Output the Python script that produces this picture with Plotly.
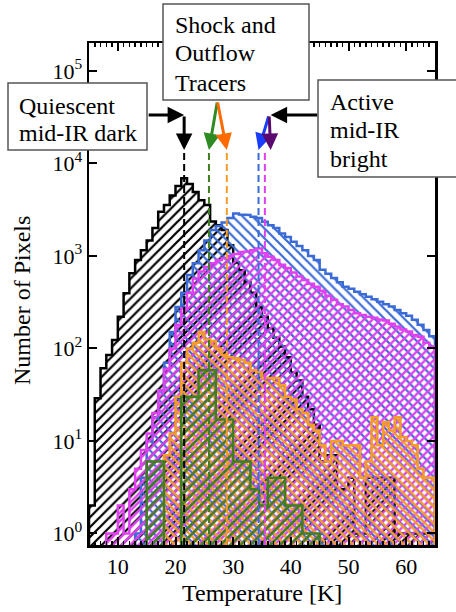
import plotly.graph_objects as go
import math

# ---------------- data ----------------
# 1 K bins from 5 K to 65 K (left edges 5..64)
bin_edges = list(range(5, 66))

quiescent_counts = [2, 29, 61, 85, 123, 220, 395, 650, 900, 1150,
                    1470, 2000, 3000, 3550, 4500, 5700, 6900, 6000, 4900, 4000,
                    3550, 2350, 2150, 1900, 1300, 850, 700, 520, 400, 280,
                    220, 165, 130, 105, 80, 55, 45, 30, 22, 15,
                    6, 7, 7, 3, 3, 4, 1, 1, 4, 4,
                    4, 4, 4, 1, 1, 1, 1, 1, 1, 1]

active_blue_counts = [0, 0, 0, 0, 0, 0, 0, 0, 1, 4,
                      10, 18, 35, 70, 150, 280, 400, 620, 830, 1150,
                      1470, 1900, 2100, 2300, 2570, 2880, 2800, 2770, 2650, 2570,
                      2340, 2150, 2000, 1750, 1600, 1420, 1280, 1150, 1000, 900,
                      710, 640, 575, 520, 465, 440, 410, 385, 362, 340,
                      320, 300, 283, 260, 240, 225, 204, 180, 158, 135]

active_magenta_counts = [0, 0, 0, 1, 1, 2, 1, 3, 5, 8,
                         12, 20, 35, 60, 100, 180, 270, 400, 570, 680,
                         760, 830, 900, 940, 1000, 1050, 1100, 1120, 1150, 1200,
                         1070, 980, 900, 800, 740, 660, 600, 550, 500, 465,
                         420, 370, 335, 300, 283, 260, 240, 230, 220, 215,
                         205, 200, 185, 172, 160, 152, 140, 134, 115, 105]

shock_orange_counts = [0, 0, 0, 0, 0, 0, 0, 0, 0, 0,
                       0, 0, 0, 7, 12, 30, 70, 100, 115, 150,
                       125, 120, 100, 85, 80, 78, 75, 70, 58, 55,
                       48, 48, 48, 40, 30, 28, 22, 20, 15, 13,
                       9, 6, 10, 10, 9, 9, 9, 4, 6, 18,
                       9, 16, 13, 18, 11, 10, 9, 5, 4, 4]

# 1.5 K bins from 15 K to 45 K
green_edges = [15 + 1.5 * i for i in range(21)]
shock_green_counts = [6, 6, 0, 0, 30, 30, 58, 58, 17, 17,
                      6, 6, 3, 2, 4, 4, 2, 2, 1, 1]

# median temperatures (K)
median_quiescent = 21.5
median_green = 25.8
median_orange = 28.9
median_blue = 34.4
median_magenta = 35.5
purple_arrow_T = 36.5

x_ticks = [10, 20, 30, 40, 50, 60]
y_ticks = [1, 10, 100, 1000, 10000, 100000]
y_ticktext = ["10<sup>%d</sup>" % i for i in range(6)]

# ---------------- styles ----------------
C_BLACK = "#000000"
C_BLUE = "#3a6bd6"
C_MAG = "#e040f0"
C_ORANGE = "#f39c2a"
C_GREEN = "#3f7f1f"
FONT = "Liberation Serif"

W, H = 456, 612
ML, MR, MT, MB = 89, 21, 43, 67
PW, PH = W - ML - MR, H - MT - MB


def px_x(px):
    return (px - ML) / PW


def px_y(py):
    return (MT + PH - py) / PH


def step_polygon(edges, counts, base=0.3):
    xs, ys = [edges[0]], [base]
    for i, c in enumerate(counts):
        v = c if c > 0 else base
        xs += [edges[i], edges[i + 1]]
        ys += [v, v]
    xs.append(edges[-1])
    ys.append(base)
    return xs, ys


fig = go.Figure()

series = [
    (bin_edges, quiescent_counts, C_BLACK, "/", 7, 0.32),
    (bin_edges, active_blue_counts, C_BLUE, "\\", 7, 0.32),
    (bin_edges, active_magenta_counts, C_MAG, "/", 6, 0.4),
    (bin_edges, shock_orange_counts, C_ORANGE, "\\", 6, 0.4),
    (green_edges, shock_green_counts, C_GREEN, "/", 7, 0.35),
]
for edges, counts, col, shp, sz, sol in series:
    xs, ys = step_polygon(edges, counts)
    fig.add_trace(go.Scatter(
        x=xs, y=ys, mode="lines", fill="toself",
        fillcolor="rgba(0,0,0,0)",
        fillpattern=dict(shape=shp, fgcolor=col, bgcolor="rgba(0,0,0,0)",
                         size=sz, solidity=sol, fillmode="replace", fgopacity=1),
        line=dict(color=col, width=2.5),
        hoverinfo="skip", showlegend=False,
    ))

# median dashed lines
top_paper = px_y(151)
for m, col in [(median_quiescent, C_BLACK), (median_green, C_GREEN),
               (median_orange, C_ORANGE), (median_blue, C_BLUE),
               (median_magenta, C_MAG)]:
    fig.add_shape(type="line", xref="x", yref="paper", x0=m, x1=m, y0=0, y1=top_paper,
                  line=dict(color=col, width=2, dash="7px,4px"), layer="above")

# boxes
boxes = [(8, 83, 147, 150), (163, 4, 309, 100), (318, 80, 470, 177)]
for x0, y0, x1, y1 in boxes:
    fig.add_shape(type="rect", xref="paper", yref="paper",
                  x0=px_x(x0), x1=px_x(x1), y0=px_y(y1), y1=px_y(y0),
                  line=dict(color="#555555", width=1.5), fillcolor="white", layer="above")

texts = [("Quiescent", 17, 105.5), ("mid-IR dark", 17, 133.5),
         ("Shock and", 172.5, 25), ("Outflow", 172.5, 53.5), ("Tracers", 172.5, 83),
         ("Active", 328, 101.5), ("mid-IR", 328, 130), ("bright", 328, 158.5)]
annotations = []
for t, x, y in texts:
    annotations.append(dict(text=t, xref="paper", yref="paper", x=px_x(x), y=px_y(y),
                            xanchor="left", yanchor="middle", showarrow=False,
                            font=dict(family=FONT, size=24, color="black")))

# arrows (head at x data / y paper, tail offset in pixels)
head_y = px_y(150)
arrows = [
    (median_quiescent, px_y(115), -37, 0, C_BLACK),      # horizontal from Quiescent box
    (median_quiescent, head_y, 0, -35, C_BLACK),         # down to black median
    (median_green, head_y, 8.5, -49, "#2e8b22"),
    (median_orange, head_y, -9.5, -49, "#ff6a00"),
    (median_blue, head_y, 10.5, -35, "#1a3cff"),
    (purple_arrow_T, head_y, -1.5, -35, "#5a0a6e"),
    (purple_arrow_T, px_y(115), 48, 0, C_BLACK),         # horizontal from Active box
]
for x, y, ax, ay, col in arrows:
    annotations.append(dict(text="", xref="x", yref="paper", x=x, y=y, ax=ax, ay=ay,
                            axref="pixel", ayref="pixel", showarrow=True,
                            arrowhead=2, arrowsize=1.1, arrowwidth=3, arrowcolor=col))

# axis titles
annotations.append(dict(text="Temperature [K]", xref="paper", yref="paper",
                        x=px_x(262), y=px_y(593), xanchor="center", yanchor="middle",
                        showarrow=False, font=dict(family=FONT, size=24, color="black")))
annotations.append(dict(text="Number of Pixels", xref="paper", yref="paper",
                        x=px_x(22), y=px_y(301), xanchor="center", yanchor="middle",
                        textangle=-90, showarrow=False,
                        font=dict(family=FONT, size=24, color="black")))

fig.update_layout(
    width=W, height=H,
    margin=dict(l=ML, r=MR, t=MT, b=MB, pad=0),
    paper_bgcolor="white", plot_bgcolor="white",
    showlegend=False,
    annotations=annotations,
    font=dict(family=FONT, size=22, color="black"),
)
fig.update_xaxes(
    range=[5, 65], tickvals=x_ticks, ticks="inside", ticklen=8, tickwidth=2,
    tickcolor="black", showline=True, linewidth=2.5, linecolor="black",
    mirror="ticks", showgrid=False, zeroline=False,
    tickfont=dict(family=FONT, size=22, color="black"),
    minor=dict(dtick=1, ticks="inside", ticklen=4, tickwidth=1.5, tickcolor="black",
               showgrid=False),
)
fig.update_yaxes(
    type="log", range=[math.log10(0.75), math.log10(2e5)],
    tickvals=y_ticks, ticktext=y_ticktext, ticks="inside", ticklen=8, tickwidth=2,
    tickcolor="black", showline=True, linewidth=2.5, linecolor="black",
    mirror="ticks", showgrid=False, zeroline=False,
    tickfont=dict(family=FONT, size=22, color="black"),
)

fig.write_html("out.html",
               config={"displayModeBar": False, "staticPlot": True},
               post_script="document.body.style.margin='0px';document.body.style.padding='0px';")
